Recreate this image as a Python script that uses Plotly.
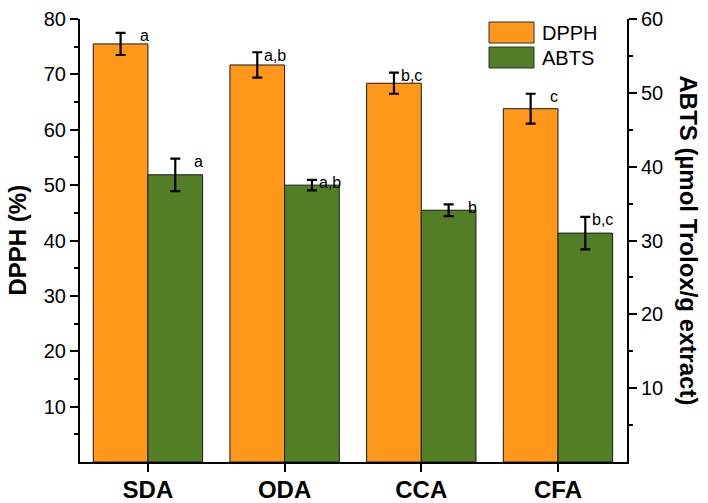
import plotly.graph_objects as go

# ---- data ----
categories = ["SDA", "ODA", "CCA", "CFA"]
dpph = [75.5, 71.7, 68.4, 63.8]
dpph_err = [2.0, 2.3, 1.9, 2.7]
abts = [38.9, 37.5, 34.1, 31.0]
abts_err = [2.2, 0.7, 0.8, 2.2]
dpph_letters = ["a", "a,b", "b,c", "c"]
abts_letters = ["a", "a,b", "b", "b,c"]
left_ticks = [10, 20, 30, 40, 50, 60, 70, 80]
right_ticks = [10, 20, 30, 40, 50, 60]

ORANGE = "#FF971B"
GREEN = "#527F26"
FONT = "Arial, Liberation Sans, sans-serif"

W, H = 708, 503
L, R, T, B = 80, 81, 19, 41
PW, PH = W - L - R, H - T - B

def px_x(px):
    return (px - L) / PW

def px_y(py):
    return (H - B - py) / PH

xs = list(range(len(categories)))

fig = go.Figure()
fig.add_trace(go.Bar(
    x=xs, y=dpph, name="DPPH", width=0.4, offset=-0.4,
    marker=dict(color=ORANGE, line=dict(color="#1a1a1a", width=1)),
    error_y=dict(type="data", array=dpph_err, color="black", thickness=2.2, width=5),
    yaxis="y", showlegend=False,
))
fig.add_trace(go.Bar(
    x=xs, y=abts, name="ABTS", width=0.4, offset=0.0,
    marker=dict(color=GREEN, line=dict(color="#1a1a1a", width=1)),
    error_y=dict(type="data", array=abts_err, color="black", thickness=2.2, width=5),
    yaxis="y2", showlegend=False,
))

annotations = []
for i in xs:
    for val, err, lab, ref, off in [
        (dpph[i], dpph_err[i], dpph_letters[i], "y", -0.2),
        (abts[i], abts_err[i], abts_letters[i], "y2", 0.2),
    ]:
        annotations.append(dict(
            x=i + off, y=val + err, xref="x", yref=ref, text=lab,
            showarrow=False, xanchor="left", yanchor="middle",
            xshift=17 if len(lab) == 1 else 5, yshift=-3,
            font=dict(family=FONT, size=16, color="black"),
        ))

# axis titles
annotations.append(dict(
    x=px_x(17), y=0.5, xref="paper", yref="paper", text="<b>DPPH (%)</b>",
    textangle=-90, showarrow=False, xanchor="center", yanchor="middle",
    font=dict(family=FONT, size=24, color="black"),
))
annotations.append(dict(
    x=px_x(688), y=0.5, xref="paper", yref="paper",
    text="<b>ABTS (µmol Trolox/g extract)</b>",
    textangle=90, showarrow=False, xanchor="center", yanchor="middle",
    font=dict(family=FONT, size=24, color="black"),
))

# custom legend
shapes = []
for j, (name, col) in enumerate([("DPPH", ORANGE), ("ABTS", GREEN)]):
    y0 = 22 + j * 25
    shapes.append(dict(
        type="rect", xref="paper", yref="paper",
        x0=px_x(489), x1=px_x(534), y0=px_y(y0 + 21), y1=px_y(y0),
        fillcolor=col, line=dict(color="#333333", width=1),
    ))
    annotations.append(dict(
        x=px_x(540), y=px_y(y0 + 10.5), xref="paper", yref="paper", text=name,
        showarrow=False, xanchor="left", yanchor="middle",
        font=dict(family=FONT, size=20, color="black"),
    ))

fig.update_layout(
    width=W, height=H,
    margin=dict(l=L, r=R, t=T, b=B, pad=0, autoexpand=False),
    plot_bgcolor="white", paper_bgcolor="white",
    barmode="overlay",
    font=dict(family=FONT, color="black"),
    xaxis=dict(
        range=[-0.497, 3.505], tickvals=xs, ticktext=[f"<b>{c}</b>" for c in categories],
        tickfont=dict(size=24, family=FONT), showline=True, linecolor="black", linewidth=2,
        ticks="outside", ticklen=8, tickwidth=1.5, tickcolor="black",
        ticklabelstandoff=-3, automargin=False,
        showgrid=False, zeroline=False,
    ),
    yaxis=dict(
        range=[0, 80], tickvals=left_ticks, tickfont=dict(size=20, family=FONT),
        showline=True, linecolor="black", linewidth=2, automargin=False,
        ticks="outside", ticklen=8, tickwidth=1.5, tickcolor="black",
        minor=dict(tickvals=[v - 5 for v in left_ticks], ticks="outside", ticklen=4,
                   tickwidth=1.5, tickcolor="black"),
        showgrid=False, zeroline=False,
    ),
    yaxis2=dict(
        range=[0, 60], tickvals=right_ticks, tickfont=dict(size=20, family=FONT),
        overlaying="y", side="right", automargin=False,
        showline=True, linecolor="black", linewidth=2,
        ticks="outside", ticklen=8, tickwidth=1.5, tickcolor="black",
        minor=dict(tickvals=[v - 5 for v in right_ticks], ticks="outside", ticklen=4,
                   tickwidth=1.5, tickcolor="black"),
        showgrid=False, zeroline=False,
    ),
    annotations=annotations,
    shapes=shapes,
)

fig.write_html("out.html")
